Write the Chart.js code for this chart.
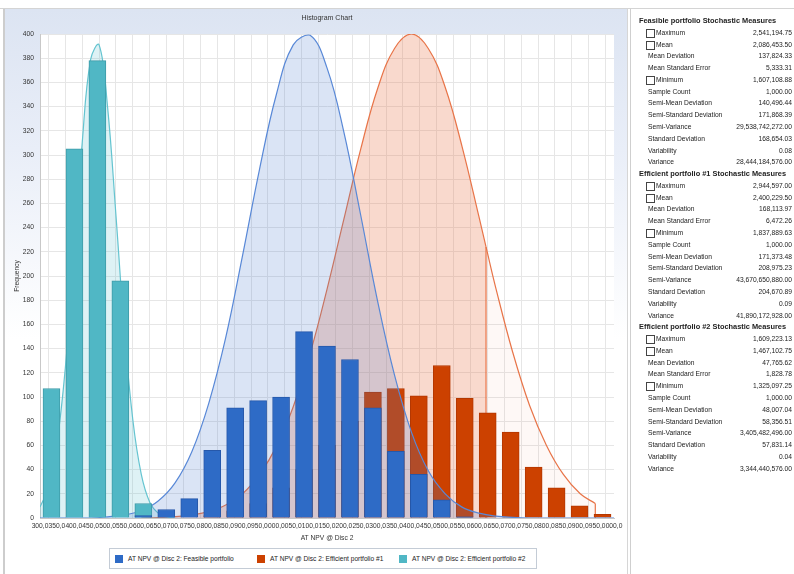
<!DOCTYPE html>
<html>
<head>
<meta charset="utf-8">
<script src="https://cdn.jsdelivr.net/npm/chart.js@4.4.0/dist/chart.umd.min.js"></script>
<style>
  body { margin: 0; width: 794px; height: 574px; background: #fff; overflow: hidden; position: relative;
         font-family: "Liberation Sans", Arial, sans-serif; color: #222; }
  #topline { position: absolute; left: 0; top: 8px; width: 794px; height: 1px; background: #d4d4d4; }
  #panel { position: absolute; left: 3px; top: 9px; width: 625px; height: 565px; box-sizing: border-box;
           border-left: 2px solid #cdcdcd; border-right: 1px solid #d6d6d6;
           background: linear-gradient(to bottom, #dce4f2 0px, #e9eef8 140px, #ffffff 330px); }
  #chart { position: absolute; left: 5px; top: 9px; }
  #title { position: absolute; left: 40px; width: 574px; top: 14px; text-align: center; font-size: 7px; color: #333; }
  #legend { position: absolute; left: 109px; top: 548px; width: 428px; height: 21px; box-sizing: border-box;
            border: 1px solid #c4ccd6; background: #fff; }
  .item { position: absolute; top: 6px; font-size: 6.6px; line-height: 8px; color: #222; white-space: nowrap; }
  .item i { position: absolute; left: 0; top: 0; width: 8px; height: 8px; }
  .item span { position: absolute; left: 13px; top: 0; }
  #stats { position: absolute; left: 630px; top: 8px; width: 164px; height: 566px; background: #fff;
           border-left: 1px solid #cfcfcf; border-top: 1px solid #d4d4d4; }
  .row { position: absolute; left: 0; width: 162px; height: 11.78px; line-height: 11.78px; font-size: 6.7px; white-space: nowrap; }
  .row.head { font-family: "Liberation Sans Narrow", "Liberation Sans", Arial, sans-serif; font-weight: bold; font-size: 7.4px; }
  .row .lab { position: absolute; left: 17px; }
  .row.head .lab { left: 8px; }
  .row.cb .lab { left: 25px; }
  .row .box { position: absolute; left: 15px; top: 2px; width: 7px; height: 7px; border: 1px solid #444; background: #fff; }
  .row .val { position: absolute; right: 1px; }
</style>
</head>
<body>
<div id="topline"></div>
<div id="panel"></div>
<canvas id="chart" width="623" height="565"></canvas>
<div id="title">Histogram Chart</div>
<div id="legend"></div>
<div id="stats"></div>
<script>
// series names
var seriesNames = ['AT NPV @ Disc 2: Feasible portfolio', 'AT NPV @ Disc 2: Efficient portfolio #1', 'AT NPV @ Disc 2: Efficient portfolio #2'];
var seriesColors = ['rgb(46,107,198)', 'rgb(204,65,0)', 'rgb(80,183,197)'];

// x axis tick labels (every 50,000)
var xTickLabels = ['1,300,000', '1,350,000', '1,400,000', '1,450,000', '1,500,000', '1,550,000', '1,600,000',
  '1,650,000', '1,700,000', '1,750,000', '1,800,000', '1,850,000', '1,900,000', '1,950,000', '2,000,000',
  '2,050,000', '2,100,000', '2,150,000', '2,200,000', '2,250,000', '2,300,000', '2,350,000', '2,400,000',
  '2,450,000', '2,500,000', '2,550,000', '2,600,000', '2,650,000', '2,700,000', '2,750,000', '2,800,000',
  '2,850,000', '2,900,000', '2,950,000', '3,000,000'];
var xTicks = xTickLabels.map(function (s) { return +s.replace(/,/g, ''); });

// histogram bins (centres) and frequencies
var binCenters = [1334000, 1402000, 1470000, 1538000, 1606000, 1674000, 1742000, 1810000, 1878000, 1946000,
  2014000, 2082000, 2150000, 2218000, 2286000, 2354000, 2422000, 2490000, 2558000, 2626000,
  2694000, 2762000, 2830000, 2898000, 2966000];
var feasibleCounts   = [0, 0, 0, 0, 2, 7, 16, 56, 91, 97, 100, 154, 142, 131, 91, 55, 36, 15, 1, 0, 0, 0, 0, 0, 0];
var efficient1Counts = [0, 0, 0, 0, 0, 0, 0, 2, 6, 12, 25, 40, 60, 80, 104, 107, 101, 126, 99, 87, 71, 42, 25, 10, 3];
var efficient2Counts = [107, 305, 378, 196, 12, 0, 0, 0, 0, 0, 0, 0, 0, 0, 0, 0, 0, 0, 0, 0, 0, 0, 0, 0, 0];

// fitted curves, read at the x ticks
var feasibleCurve = [0, 0, 0, 0, 1, 2.5, 6, 14, 29, 55, 95, 149, 217, 288, 350, 391, 399, 372, 319, 250, 179,
  118, 71, 39, 20, 9, 4, 1.5, 0.5, 0, 0, 0, 0, 0, 0];
// efficient #1 curve from 1,600,000 up to the marker, then marker to its maximum
var efficient1CurveLeft = [0, 0.4, 1.1, 2.6, 5.4, 10.7, 20, 36, 59, 92, 136, 189, 247, 305,
  355, 388, 400, 388, 356, 307, 249];
var efficient1CurveRight = [190, 137, 93, 60, 36, 20];
var efficient1Cut = [2621000, 224];   // certainty marker
var efficient1End = [2944597, 12];    // curve end (maximum)
var efficient2CurveX = [1300000, 1325000, 1350000, 1375000, 1400000, 1425000, 1450000, 1475000, 1500000,
  1525000, 1550000, 1575000, 1600000, 1625000, 1650000, 1675000, 1700000];
var efficient2Curve = [9, 25, 61, 124, 214, 310, 379, 391, 340, 250, 154, 81, 36, 13, 4, 1, 0];

// stochastic measures panel
var measureNames = ['Maximum', 'Mean', 'Mean Deviation', 'Mean Standard Error', 'Minimum', 'Sample Count',
  'Semi-Mean Deviation', 'Semi-Standard Deviation', 'Semi-Variance', 'Standard Deviation', 'Variability', 'Variance'];
var checkMeasures = ['Maximum', 'Mean', 'Minimum'];
var statTitles = ['Feasible portfolio Stochastic Measures', 'Efficient portfolio #1 Stochastic Measures', 'Efficient portfolio #2 Stochastic Measures'];
var feasibleStats = ['2,541,194.75', '2,086,453.50', '137,824.33', '5,333.31', '1,607,108.88', '1,000.00',
  '140,496.44', '171,868.39', '29,538,742,272.00', '168,654.03', '0.08', '28,444,184,576.00'];
var efficient1Stats = ['2,944,597.00', '2,400,229.50', '168,113.97', '6,472.26', '1,837,889.63', '1,000.00',
  '171,373.48', '208,975.23', '43,670,650,880.00', '204,670.89', '0.09', '41,890,172,928.00'];
var efficient2Stats = ['1,609,223.13', '1,467,102.75', '47,765.62', '1,828.78', '1,325,097.25', '1,000.00',
  '48,007.04', '58,356.51', '3,405,482,496.00', '57,831.14', '0.04', '3,344,440,576.00'];

// ---- stats panel
var stats = document.getElementById('stats');
var html = '';
var n = 0;
[feasibleStats, efficient1Stats, efficient2Stats].forEach(function (vals, s) {
  html += '<div class="row head" style="top:' + (6 + n * 11.78) + 'px"><span class="lab">' + statTitles[s] + '</span></div>';
  n++;
  measureNames.forEach(function (m, i) {
    var cb = checkMeasures.indexOf(m) >= 0;
    html += '<div class="row' + (cb ? ' cb' : '') + '" style="top:' + (6 + n * 11.78) + 'px">' +
      (cb ? '<span class="box"></span>' : '') + '<span class="lab">' + m + '</span><span class="val">' + vals[i] + '</span></div>';
    n++;
  });
});
stats.innerHTML = html;

// ---- legend
var legend = document.getElementById('legend');
legend.innerHTML = seriesNames.map(function (name, i) {
  return '<div class="item" style="left:' + (5 + i * 142) + 'px"><i style="background:' + seriesColors[i] + '"></i><span>' + name + '</span></div>';
}).join('');

function pts(xs, ys) {
  return ys.map(function (y, i) { return { x: xs[i], y: y }; });
}

var plotBg = {
  id: 'plotBg',
  beforeDraw: function (chart) {
    var a = chart.chartArea, c = chart.ctx;
    c.save();
    c.fillStyle = '#ffffff';
    c.fillRect(a.left, a.top, a.right - a.left, a.bottom - a.top);
    c.restore();
  }
};

var orangeLine = 'rgb(232,116,72)';
var ctx = document.getElementById('chart').getContext('2d');
var chart = new Chart(ctx, {
  type: 'bar',
  data: {
    datasets: [
      {
        label: seriesNames[0], data: pts(binCenters, feasibleCounts), order: 1,
        backgroundColor: seriesColors[0], borderColor: 'rgb(38,88,170)', borderWidth: 1
      },
      {
        label: seriesNames[1], data: pts(binCenters, efficient1Counts), order: 5,
        backgroundColor: seriesColors[1], borderColor: 'rgb(180,55,0)', borderWidth: 1
      },
      {
        label: seriesNames[2], data: pts(binCenters, efficient2Counts), order: 2,
        backgroundColor: seriesColors[2], borderColor: 'rgb(62,155,168)', borderWidth: 1
      },
      {
        type: 'line', data: pts(xTicks, feasibleCurve), order: 3,
        borderColor: 'rgb(88,136,215)', borderWidth: 1.2, backgroundColor: 'rgba(70,120,205,0.2)', fill: 'origin'
      },
      {
        type: 'line', order: 6,
        data: pts(xTicks.slice(6), efficient1CurveLeft).concat([{ x: efficient1Cut[0], y: efficient1Cut[1] }]),
        borderColor: orangeLine, borderWidth: 1.2, backgroundColor: 'rgba(232,116,72,0.27)', fill: 'origin'
      },
      {
        type: 'line', order: 7,
        data: [{ x: efficient1Cut[0], y: efficient1Cut[1] }].concat(pts(xTicks.slice(27), efficient1CurveRight),
          [{ x: efficient1End[0], y: efficient1End[1] }]),
        borderColor: orangeLine, borderWidth: 1.2, backgroundColor: 'rgba(232,116,72,0.05)', fill: 'origin'
      },
      {
        type: 'line', order: 6, tension: 0, spanGaps: false,
        data: [{ x: efficient1Cut[0], y: efficient1Cut[1] }, { x: efficient1Cut[0], y: 0 }, { x: 2800000, y: null },
          { x: efficient1End[0], y: efficient1End[1] }, { x: efficient1End[0], y: 0 }],
        borderColor: orangeLine, borderWidth: 1.2, fill: false
      },
      {
        type: 'line', data: pts(efficient2CurveX, efficient2Curve), order: 4,
        borderColor: 'rgb(100,196,208)', borderWidth: 1.2, backgroundColor: 'rgba(90,190,205,0.2)', fill: 'origin'
      }
    ]
  },
  options: {
    responsive: false,
    animation: false,
    events: [],
    layout: { padding: { top: 25, right: 14, bottom: 30, left: 0 } },
    datasets: {
      bar: { barThickness: 17, grouped: false },
      line: { pointRadius: 0, tension: 0.4 }
    },
    plugins: {
      legend: { display: false },
      title: { display: false },
      tooltip: { enabled: false }
    },
    scales: {
      x: {
        type: 'linear', min: 1300000, max: 3000000, offset: false,
        afterBuildTicks: function (s) { s.ticks = xTicks.map(function (v) { return { value: v }; }); },
        afterFit: function (s) { s.height = 26; },
        grid: { color: '#e6e6e6', drawTicks: false },
        border: { color: '#c8c8c8' },
        ticks: {
          autoSkip: false, maxRotation: 0, minRotation: 0, padding: 4, color: '#333',
          font: { size: 6.7, family: 'Liberation Sans' },
          // the original clips every label to its own slot, only the middle shows
          callback: function (v, i) { return xTickLabels[i].slice(2, 7); }
        },
        title: { display: true, text: 'AT NPV @ Disc 2', color: '#333', font: { size: 6.7, family: 'Liberation Sans' }, padding: { top: 2, bottom: 2 } }
      },
      y: {
        min: 0, max: 400,
        afterFit: function (s) { s.width = 35; },
        grid: { color: '#e6e6e6', drawTicks: false },
        border: { color: '#c8c8c8' },
        ticks: { stepSize: 20, padding: 6, color: '#333', font: { size: 6.7, family: 'Liberation Sans' } },
        title: { display: true, text: 'Frequency', color: '#333', font: { size: 6.7, family: 'Liberation Sans' }, padding: { top: 8, bottom: 0 } }
      }
    }
  },
  plugins: [plotBg]
});
</script>
</body>
</html>
